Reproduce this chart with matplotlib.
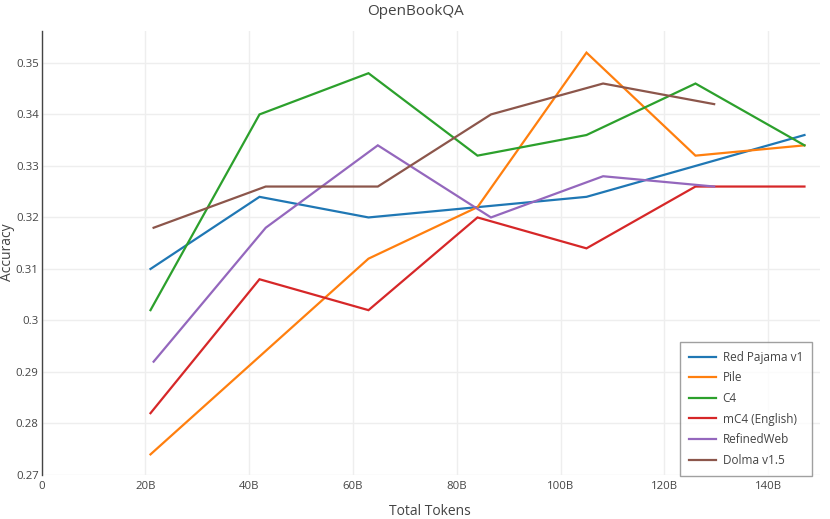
import matplotlib
matplotlib.use("Agg")
import matplotlib.pyplot as plt

plt.rcParams['font.family'] = ['Open Sans', 'DejaVu Sans']

# tokens en miles de millones (B)
tokens_a = [21, 42, 63, 84, 105, 126, 147]
tokens_b = [21.6, 43.2, 64.8, 86.6, 108.2, 129.6]

red_pajama = [0.310, 0.324, 0.320, 0.322, 0.324, 0.330, 0.336]
pile = [0.274, 0.293, 0.312, 0.322, 0.352, 0.332, 0.334]
c4 = [0.302, 0.340, 0.348, 0.332, 0.336, 0.346, 0.334]
mc4 = [0.282, 0.308, 0.302, 0.320, 0.314, 0.326, 0.326]
refinedweb = [0.292, 0.318, 0.334, 0.320, 0.328, 0.326]
dolma = [0.318, 0.326, 0.326, 0.340, 0.346, 0.342]

names = ["Red Pajama v1", "Pile", "C4", "mC4 (English)", "RefinedWeb", "Dolma v1.5"]
colors = ["#1f77b4", "#ff7f0e", "#2ca02c", "#d62728", "#9467bd", "#8c564b"]

xticks = [0, 20, 40, 60, 80, 100, 120, 140]
xticklabels = ["0", "20B", "40B", "60B", "80B", "100B", "120B", "140B"]
yticks = [0.27, 0.28, 0.29, 0.30, 0.31, 0.32, 0.33, 0.34, 0.35]
yticklabels = ["0.27", "0.28", "0.29", "0.3", "0.31", "0.32", "0.33", "0.34", "0.35"]

fig = plt.figure(figsize=(8.3, 5.19), dpi=100)
ax = fig.add_axes([0.05, 0.0848, 0.938, 0.8555])

series = [(tokens_a, red_pajama), (tokens_a, pile), (tokens_a, c4),
          (tokens_a, mc4), (tokens_b, refinedweb), (tokens_b, dolma)]
for (xs, ys), name, col in zip(series, names, colors):
    ax.plot(xs, ys, color=col, linewidth=1.6, label=name, solid_joinstyle='miter')

ax.set_xlim(0, 150)
ax.set_ylim(0.27, 0.3562)
ax.set_xticks(xticks)
ax.set_xticklabels(xticklabels)
ax.set_yticks(yticks)
ax.set_yticklabels(yticklabels)
ax.grid(True, color="#eeeeee", linewidth=1)
ax.set_axisbelow(True)
ax.tick_params(length=0, labelsize=8.2, labelcolor="#444444", pad=4)
ax.tick_params(axis="y", pad=2)
for s in ["top", "right", "bottom"]:
    ax.spines[s].set_visible(False)
ax.spines["left"].set_color("#444444")
ax.spines["left"].set_linewidth(1)

# textos de ejes y titulo colocados en coordenadas de figura
fig.text(0.518, 0.014, "Total Tokens", ha="center", va="center", fontsize=10, color="#444444")
fig.text(0.0088, 0.514, "Accuracy", ha="center", va="center", rotation=90, fontsize=10, color="#444444")
fig.text(0.5, 0.977, "OpenBookQA", ha="center", va="center", fontsize=11, color="#444444")

leg = ax.legend(loc="lower right", bbox_to_anchor=(0.99, -0.002), fontsize=8.5,
                frameon=True, fancybox=False, handlelength=2.3, labelspacing=0.64,
                borderpad=0.78, handletextpad=0.55, borderaxespad=0)
leg.get_frame().set_edgecolor("#888888")
leg.get_frame().set_linewidth(1)
for t in leg.get_texts():
    t.set_color("#444444")

fig.savefig("out.png", dpi=100)
